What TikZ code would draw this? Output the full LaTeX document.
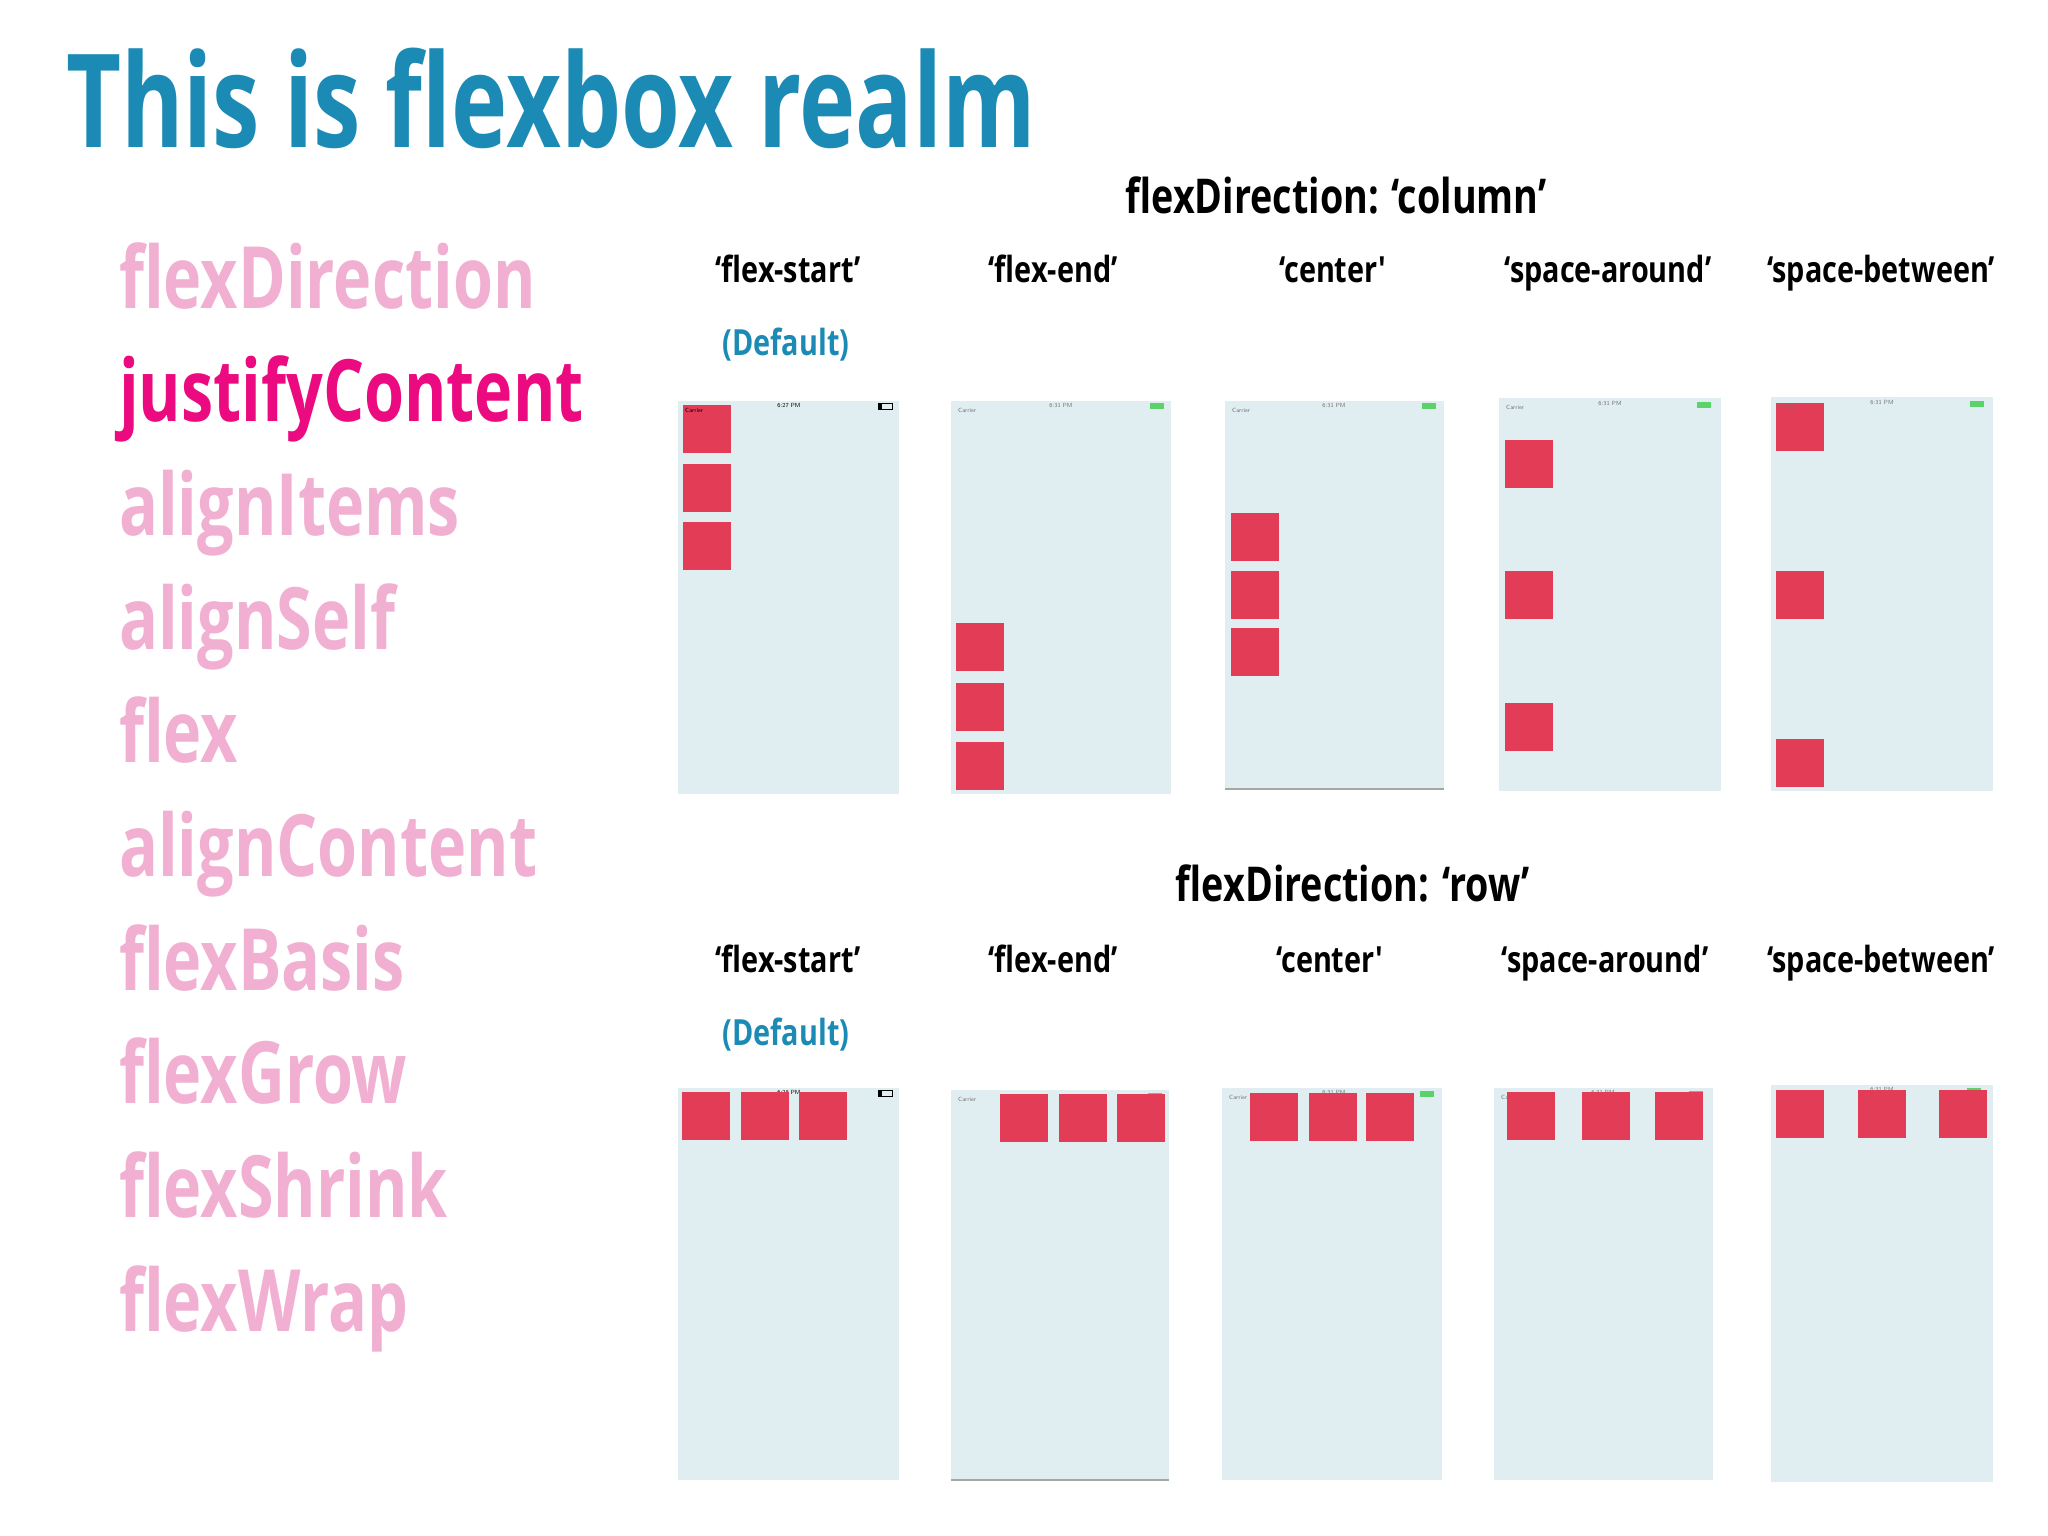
\documentclass[tikz,border=0pt]{standalone}
\usepackage{fontspec}
\newfontfamily\condt{Open Sans}[FakeStretch=0.732]
\newfontfamily\condl{Open Sans}[FakeStretch=0.752]
\newfontfamily\condh{Open Sans}[FakeStretch=0.785]
\newfontfamily\condc{Open Sans}[FakeStretch=0.80]
\definecolor{titleblue}{HTML}{1B8BB5}
\definecolor{lightpink}{HTML}{F1B0D2}
\definecolor{hotpink}{HTML}{EC0A80}
\definecolor{screenbg}{HTML}{E1EEF1}
\definecolor{boxred}{HTML}{E23C56}
\definecolor{batgreen}{HTML}{5BD36A}
\tikzset{
  title/.style={anchor=base west, inner sep=0pt, text=titleblue, font=\condt\bfseries\fontsize{130}{130}\selectfont},
  prop/.style={anchor=base west, inner sep=0pt, text=lightpink, font=\condl\bfseries\fontsize{86}{86}\selectfont},
  propon/.style={prop, text=hotpink},
  header/.style={anchor=base, inner sep=0pt, text=black, font=\condh\bfseries\fontsize{48}{48}\selectfont},
  collabel/.style={anchor=base, inner sep=0pt, text=black, font=\condc\bfseries\fontsize{36}{36}\selectfont},
  deflabel/.style={anchor=base, inner sep=0pt, text=titleblue, font=\condc\bfseries\fontsize{36}{36}\selectfont},
  screen/.style={fill=screenbg},
  redbox/.style={fill=boxred},
  status/.style={inner sep=0pt, text=black!55, font=\sffamily\fontsize{6}{6}\selectfont},
  statusdark/.style={status, text=black},
}
\newcommand\phone[5]{% name, x1, y1, x2, y2
  \fill[screen] (#2,#3) rectangle (#4,#5);
  \coordinate (#1) at (#2,#3);
}
\newcommand\sq[2]{\fill[redbox] (#1,#2) rectangle (#1+48,#2+48);}
\begin{document}
\begin{tikzpicture}[x=1pt,y=-1pt]
\useasboundingbox (0,0) rectangle (2048,1536);
\fill[white] (0,0) rectangle (2048,1536);

\node[title] (ttl) at (66,148) {This is flexbox realm};

\node[prop]   (p1)  at (119,308) {flexDirection};
\node[propon] (p2)  at (119,421) {justifyContent};
\node[prop]   (p3)  at (119,535) {alignItems};
\node[prop]   (p4)  at (119,649) {alignSelf};
\node[prop]   (p5)  at (119,762) {flex};
\node[prop]   (p6)  at (119,876) {alignContent};
\node[prop]   (p7)  at (119,990) {flexBasis};
\node[prop]   (p8)  at (119,1103) {flexGrow};
\node[prop]   (p9)  at (119,1217) {flexShrink};
\node[prop]   (p10) at (119,1331) {flexWrap};

% ---- column direction ----
\node[header] (hcol) at (1336,213) {flexDirection: ‘column’};
\node[collabel] (c1) at (788,282) {‘flex-start’};
\node[collabel] (c2) at (1053,282) {‘flex-end’};
\node[collabel] (c3) at (1333,282) {‘center'};
\node[collabel] (c4) at (1608,282) {‘space-around’};
\node[collabel] (c5) at (1881,282) {‘space-between’};
\node[deflabel] (d1) at (786,355) {(Default)};

\phone{s1}{678}{401}{899}{794}
\phone{s2}{951}{401}{1171}{794}
\phone{s3}{1225}{401}{1444}{789}
\phone{s4}{1499}{398}{1721}{791}
\phone{s5}{1771}{397}{1993}{791}
\draw[black!35, line width=1.5pt] (1225,789) -- (1444,789);

\sq{683}{405} \sq{683}{464} \sq{683}{522}
\sq{956}{623} \sq{956}{683} \sq{956}{742}
\sq{1231}{513} \sq{1231}{571} \sq{1231}{628}
\sq{1505}{440} \sq{1505}{571} \sq{1505}{703}
\sq{1776}{403} \sq{1776}{571} \sq{1776}{739}

% ---- row direction ----
\node[header] (hrow) at (1353,901) {flexDirection: ‘row’};
\node[collabel] (r1) at (788,972) {‘flex-start’};
\node[collabel] (r2) at (1053,972) {‘flex-end’};
\node[collabel] (r3) at (1330,972) {‘center'};
\node[collabel] (r4) at (1605,972) {‘space-around’};
\node[collabel] (r5) at (1881,972) {‘space-between’};
\node[deflabel] (e1) at (786,1045) {(Default)};

\phone{t1}{678}{1088}{899}{1480}
\phone{t2}{951}{1090}{1169}{1480}
\phone{t3}{1222}{1088}{1442}{1480}
\phone{t4}{1494}{1088}{1713}{1480}
\phone{t5}{1771}{1085}{1993}{1482}
\draw[black!35, line width=1.5pt] (951,1480) -- (1169,1480);

% status bars
\foreach \n/\col in {s1/statusdark,t1/statusdark,s2/status,s3/status,s4/status,s5/status,t2/status,t3/status,t4/status,t5/status}{
  \node[\col, anchor=west] (\n-car) at ([shift={(7,9)}]\n) {Carrier};
}
\node[statusdark] (s1-time) at (789,405) {6:27 PM};
\node[statusdark] (t1-time) at (789,1092) {6:28 PM};
\draw[black, line width=0.8pt] (878,403) rectangle (892,409);
\fill[black] (878,403) rectangle (882,409);
\draw[black, line width=0.8pt] (878,1090) rectangle (892,1096);
\fill[black] (878,1090) rectangle (882,1096);
\foreach \bx/\by in {1150/403,1422/403,1697/402,1970/401,1148/1093,1420/1091,1689/1091,1967/1088}{
  \fill[batgreen] (\bx,\by) rectangle (\bx+14,\by+6);
}
\foreach \tx/\ty in {1061/405,1334/405,1610/403,1882/402,1334/1092,1603/1092,1882/1089}{
  \node[status] at (\tx,\ty) {6:31 PM};
}

\sq{682}{1092} \sq{741}{1092} \sq{799}{1092}
\sq{1000}{1094} \sq{1059}{1094} \sq{1117}{1094}
\sq{1250}{1093} \sq{1309}{1093} \sq{1366}{1093}
\sq{1507}{1092} \sq{1582}{1092} \sq{1655}{1092}
\sq{1776}{1090} \sq{1858}{1090} \sq{1939}{1090}
\end{tikzpicture}
\end{document}
